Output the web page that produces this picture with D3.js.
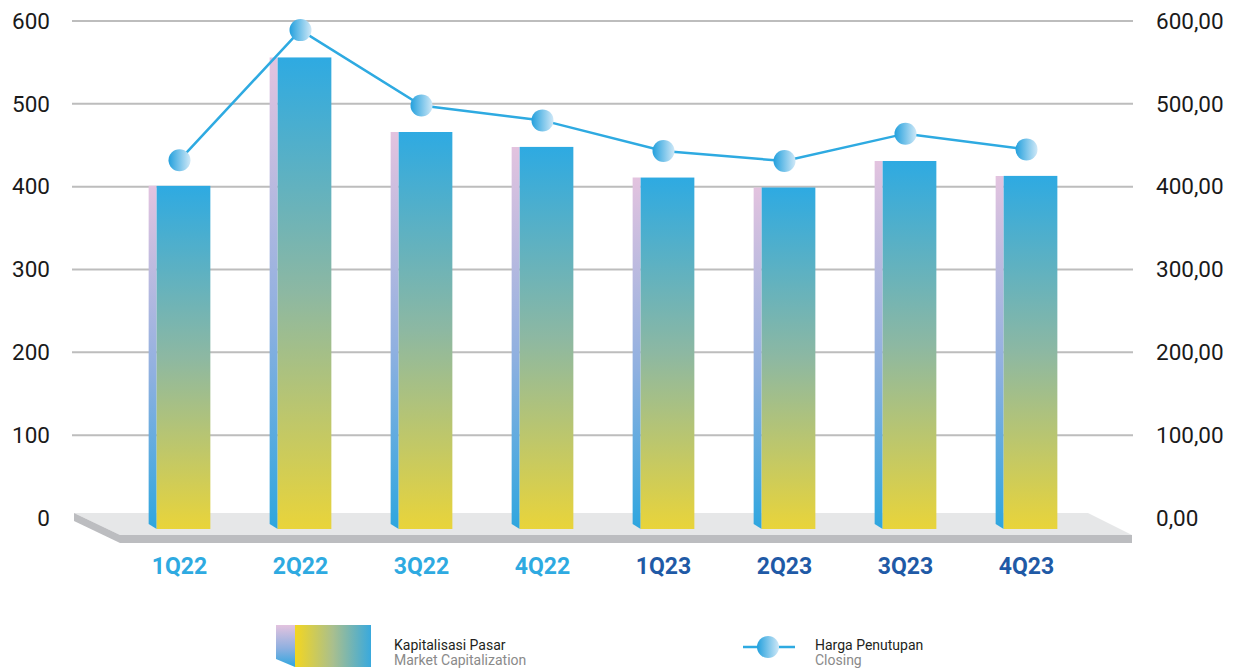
<!DOCTYPE html>
<html><head><meta charset="utf-8">
<script src="https://cdn.jsdelivr.net/npm/d3@7"></script>
<style>body{margin:0;background:#fff}svg{display:block}text{font-family:Roboto,"Noto Sans",sans-serif}</style>
</head><body><svg id="c" width="1242" height="670"></svg>
<script>
const categories = ["1Q22","2Q22","3Q22","4Q22","1Q23","2Q23","3Q23","4Q23"];
const marketCap = [401,556,466,448,411,399,431,413];
const closing = [432,589,498,480,443,431,464,445];
const leftTicks = [0,100,200,300,400,500,600];
const rightTickLabels = ["0,00","100,00","200,00","300,00","400,00","500,00","600,00"];
const labelColors = ["#2eaae1","#2eaae1","#2eaae1","#2eaae1","#1f5aa6","#1f5aa6","#1f5aa6","#1f5aa6"];

const svg = d3.select("#c");
const defs = svg.append("defs");
const fg = defs.append("linearGradient").attr("id","front").attr("x1",0).attr("y1",0).attr("x2",0).attr("y2",1);
fg.append("stop").attr("offset","0").attr("stop-color","#2eaae2");
fg.append("stop").attr("offset","0.5").attr("stop-color","#8db8a2");
fg.append("stop").attr("offset","1").attr("stop-color","#e9d43a");
const sg = defs.append("linearGradient").attr("id","side").attr("x1",0).attr("y1",0).attr("x2",0).attr("y2",1);
sg.append("stop").attr("offset","0").attr("stop-color","#e3c3df");
sg.append("stop").attr("offset","0.55").attr("stop-color","#8fb0e0");
sg.append("stop").attr("offset","1").attr("stop-color","#2ea6df");
const mg = defs.append("linearGradient").attr("id","mark").attr("x1",0).attr("y1",0).attr("x2",1).attr("y2",0);
mg.append("stop").attr("offset","0").attr("stop-color","#23a0dd");
mg.append("stop").attr("offset","1").attr("stop-color","#cfe8f7");
const lg = defs.append("linearGradient").attr("id","legFront").attr("x1",0).attr("y1",0).attr("x2",1).attr("y2",0);
lg.append("stop").attr("offset","0").attr("stop-color","#f3d620");
lg.append("stop").attr("offset","0.5").attr("stop-color","#a9bf8e");
lg.append("stop").attr("offset","1").attr("stop-color","#39a9dd");

const y = d3.scaleLinear().domain([0,600]).range([518,21]);
const x = d3.scaleBand().domain(categories).range([119,1087]).paddingInner(0.49).paddingOuter(0.245);
const cx = d => x(d) + x.bandwidth()/2;

// gridlines
svg.append("g").selectAll("line").data(leftTicks.filter(t=>t>0)).join("line")
  .attr("x1",72).attr("x2",1133).attr("y1",d=>y(d)).attr("y2",d=>y(d))
  .attr("stroke","#bdbdbd").attr("stroke-width",2);

// axis labels
const la = d3.axisLeft(y).tickValues(leftTicks).tickSize(0).tickPadding(0);
const gl = svg.append("g").attr("transform","translate(50,0)").call(la);
gl.select(".domain").remove();
gl.selectAll("text").attr("font-size",22.5).attr("fill","#1a1a1a").attr("font-family","Roboto");
const ra = d3.axisRight(y).tickValues(leftTicks).tickFormat((d,i)=>rightTickLabels[i]).tickSize(0).tickPadding(0);
const gr = svg.append("g").attr("transform","translate(1156,0)").call(ra);
gr.select(".domain").remove();
gr.selectAll("text").attr("font-size",22.5).attr("fill","#1a1a1a").attr("font-family","Roboto");

// floor
const floorTop = 513, floorFront = 535, floorBottom = 543;
svg.append("polygon").attr("points",`74,${floorTop} 1088,${floorTop} 1132,${floorFront} 120,${floorFront}`).attr("fill","#e6e7e8");
svg.append("polygon").attr("points",`74,${floorTop} 120,${floorFront} 120,${floorBottom} 74,${floorTop+8}`).attr("fill","#bcbdc0");
svg.append("rect").attr("x",120).attr("y",floorFront).attr("width",1012).attr("height",floorBottom-floorFront).attr("fill","#bcbdc0");

// bars
const base = 529, side = 8;
const bars = svg.append("g").selectAll("g").data(categories).join("g");
bars.append("polygon").attr("points",(d,i)=>{
  const x0 = x(d), t = y(marketCap[i]);
  return `${x0},${t} ${x0+side},${t} ${x0+side},${base} ${x0},${base-5}`;
}).attr("fill","url(#side)");
bars.append("rect").attr("x",d=>x(d)+side).attr("y",(d,i)=>y(marketCap[i]))
  .attr("width",x.bandwidth()-side).attr("height",(d,i)=>base-y(marketCap[i]))
  .attr("fill","url(#front)");

// x labels
svg.append("g").selectAll("text").data(categories).join("text")
  .attr("x",d=>cx(d)).attr("y",574).attr("text-anchor","middle")
  .attr("font-size",23).attr("font-weight","bold").attr("fill",(d,i)=>labelColors[i]).text(d=>d);

// line
const line = d3.line().x((d,i)=>cx(categories[i])).y(d=>y(d));
svg.append("path").datum(closing).attr("d",line).attr("fill","none").attr("stroke","#2eaae1").attr("stroke-width",2.5);
svg.append("g").selectAll("circle").data(closing).join("circle")
  .attr("cx",(d,i)=>cx(categories[i])).attr("cy",d=>y(d)).attr("r",11).attr("fill","url(#mark)");

// legend
const L = svg.append("g");
L.append("polygon").attr("points","276,625 295,625 295,667 276,659").attr("fill","url(#side)");
L.append("rect").attr("x",295).attr("y",625).attr("width",76).attr("height",42).attr("fill","url(#legFront)");
L.append("text").attr("x",394).attr("y",650).attr("font-size",14).attr("fill","#231f20").text("Kapitalisasi Pasar");
L.append("text").attr("x",394).attr("y",665).attr("font-size",14).attr("fill","#8a8a8a").text("Market Capitalization");
L.append("line").attr("x1",743).attr("x2",795).attr("y1",647).attr("y2",647).attr("stroke","#2eaae1").attr("stroke-width",2.5);
L.append("circle").attr("cx",768).attr("cy",647).attr("r",11).attr("fill","url(#mark)");
L.append("text").attr("x",815).attr("y",650).attr("font-size",14).attr("fill","#231f20").text("Harga Penutupan");
L.append("text").attr("x",815).attr("y",665).attr("font-size",14).attr("fill","#8a8a8a").text("Closing");
</script></body></html>
